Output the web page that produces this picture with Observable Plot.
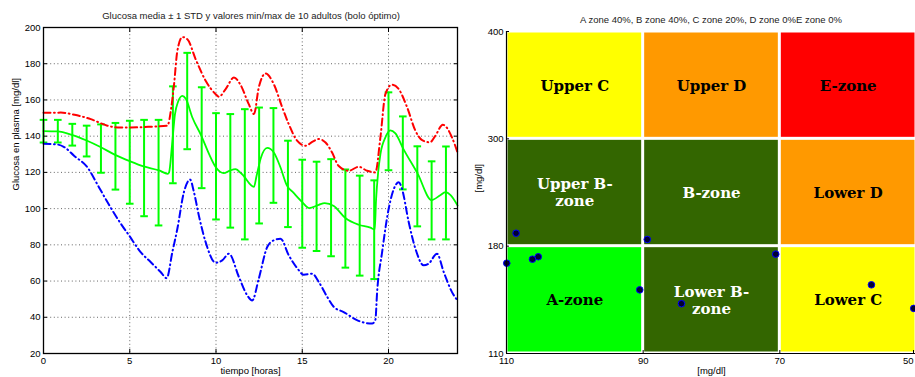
<!DOCTYPE html>
<html><head><meta charset="utf-8">
<script src="https://cdn.jsdelivr.net/npm/d3@7"></script>
<script src="https://cdn.jsdelivr.net/npm/@observablehq/plot@0.6"></script>
<style>
html,body{margin:0;padding:0;background:#fff;overflow:hidden;}
body{width:915px;height:377px;position:relative;font-family:"Liberation Sans",Arial,sans-serif;}
.title{position:absolute;font-size:9.5px;color:#222;white-space:nowrap;transform:translate(-50%,-50%);line-height:1;}
#left{position:absolute;left:0;top:0;width:460px;}
#right{position:absolute;left:460px;top:0;width:460px;}
</style></head><body>
<div id="left"></div><div id="right"></div>
<div class="title" style="left:251px;top:15.5px">Glucosa media ± 1 STD y valores min/max de 10 adultos (bolo óptimo)</div>
<div class="title" style="left:711px;top:20px">A zone 40%, B zone 40%, C zone 20%, D zone 0%E zone 0%</div>
<script>
// ---- Left chart data ----
const meanT = [0,0.8,1.6,2.5,3.3,4.15,5,5.8,6.7,7.2,7.28,7.45,7.62,7.8,8.05,8.25,8.63,9.15,9.6,10,10.45,10.8,11.13,11.5,12.2,12.35,12.6,12.97,13.35,13.74,14.1,14.5,15,15.4,15.96,16.3,16.83,17.5,18.27,18.95,19.2,19.28,19.4,19.53,19.82,20.1,20.4,20.86,21.69,22.5,23.0,23.3,23.6,24];
const meanV = [142.8,142.6,140.9,137.6,134,129.7,126.2,123.3,121.1,119.2,120,135,152,159,162.3,160.6,150.3,140.2,130.1,122.7,119.6,121,121.8,119.1,112,118,128,133.5,131,122.7,113,108.7,103.6,100.3,102.1,103,101.4,94.8,91.1,89.5,88.5,105,120,130,139.3,143.2,141.5,133,119.3,104.7,107.4,109.1,107.5,101.8];

const maxT = [0,1,1.8,2.74,3.7,4.3,5.06,6.2,7.18,7.41,7.56,7.76,8.05,8.34,8.82,9.4,9.98,10.17,10.56,11.04,11.4,11.9,12.2,12.48,12.87,13.35,13.84,14.22,14.7,15.19,15.6,15.96,16.35,16.73,17.1,17.7,18.27,18.76,19.24,19.53,19.82,20.2,20.59,21.08,21.56,21.95,22.4,22.7,23.15,23.68,24];
const maxV = [152.9,153,151.8,149.4,145.8,144.8,144.8,145.2,145.8,155.9,167.8,187.1,194.7,193.5,182.5,170.6,163.2,161.8,166,172.4,168.7,157.7,152.2,166.9,174.6,168.7,155.9,146.6,137.5,134.7,137,138.4,136.5,131,123.7,120.9,123.1,120.9,120,139.3,163.2,168.4,166,155.9,143,137.8,136.6,140,146.3,139.3,131];

const minT = [0,0.8,1.2,1.77,2.55,3.22,3.9,4.48,4.96,5.63,6.21,6.79,7.14,7.47,7.76,8.14,8.5,8.7,9.01,9.4,9.98,10.36,10.75,11.33,11.81,12.1,12.48,12.97,13.35,13.74,14.22,14.7,15.09,15.57,15.96,16.45,16.83,17.4,18.2,19.05,19.24,19.34,19.63,20.01,20.4,20.59,20.78,21.17,21.56,22.04,22.33,22.81,23.2,23.68,24];
const minV = [135.8,135.4,134,129.2,122.7,111.7,100.5,91.7,85.2,76,70.5,65,61.6,76,88.9,109.1,116,110,96,81.5,70.1,71.4,75.1,62.2,52.1,49.3,61.3,78.8,82.5,83.4,74.2,67.2,63.5,64.1,59.5,51.2,45.7,42.9,38.3,36.5,38.6,53.9,76,99.9,112.8,114.6,111,92.6,77.9,68.7,69.6,75.1,65,53.9,49.3];

const ebT  = [0,0.83,1.67,2.5,3.33,4.17,5,5.83,6.67,7.5,8.33,9.17,10,10.83,11.67,12.5,13.33,14.17,15,15.83,16.67,17.5,18.33,19.17,20,20.83,21.67,22.5,23.33];
const ebHi = [149,149,146.8,145.8,146.5,147.3,148.5,149,149,167.5,186,167,152.7,152.2,154.9,155.8,155.5,137.5,127,125.9,127.3,121.6,118.2,115.6,164.2,150.9,134.4,126.1,134.3];
const ebLo = [136.5,136.5,134.8,128.8,119.8,110.5,102.7,95.8,90.7,114,132.8,111.3,94,89.5,83,91.8,103.2,89.8,78.4,76.6,73.7,67.4,63,61.1,121.2,110.6,90.2,83,83];

const xTicks = [0,5,10,15,20];
const yTicks = [20,40,60,80,100,120,140,160,180,200];

// ---- Right chart (CVGA) data ----
const cvgaXTicks = [110,90,70,50];
const cvgaYTicks = [110,180,300,400];
const zoneNames = ["Upper C","Upper D","E-zone","Upper B-\nzone","B-zone","Lower D","A-zone","Lower B-\nzone","Lower C"];
const zoneFill  = ["#ffff00","#ff9900","#ff0000","#336600","#336600","#ff9900","#00ff00","#336600","#ffff00"];
const zoneInk   = ["#000000","#000000","#000000","#ffffff","#ffffff","#000000","#000000","#ffffff","#000000"];
const dotX = [109.96,106.2,105.35,90.5,84.4,70.6,56.6,50.4,108.6,89.4];
const dotY = [168.9,171.5,173.1,151.5,142.5,174.8,154.8,139.4,194.5,187.5];

// ---- build tables ----
const toRows = (T, V) => T.map((t, i) => ({t, v: V[i]}));
const meanData = toRows(meanT, meanV);
const maxData = toRows(maxT, maxV);
const minData = toRows(minT, minV);
const eb = ebT.map((t, i) => ({t, hi: ebHi[i], lo: ebLo[i]}));

const zones = zoneNames.map((name, i) => {
  const c = i % 3, r = Math.floor(i / 3);
  return {name, fill: zoneFill[i], ink: zoneInk[i],
    x1: cvgaXTicks[c], x2: cvgaXTicks[c + 1],
    y1: cvgaYTicks[2 - r], y2: cvgaYTicks[3 - r]};
});
const dots = dotX.map((x, i) => ({x, y: dotY[i]}));

const font = "'Liberation Sans', Arial, Helvetica, sans-serif";
const capSymbol = {draw(ctx) { ctx.moveTo(-3.8, 0); ctx.lineTo(3.8, 0); }};
const green = "#00ff00";
const dashDot = "7,3.5,0.8,3.5";
const gridStyle = {stroke: "#555", strokeOpacity: 0.9, strokeDasharray: "1,2.6"};

const left = Plot.plot({
  width: 460, height: 377,
  marginLeft: 43, marginRight: 3, marginTop: 27, marginBottom: 24,
  style: {fontFamily: font, fontSize: "9.5px", color: "#000", background: "transparent", maxWidth: "none"},
  x: {type: "linear", domain: [0, 24], axis: null},
  y: {type: "linear", domain: [20, 200], axis: null},
  marks: [
    Plot.gridX(xTicks.slice(1), gridStyle),
    Plot.gridY(yTicks.slice(1, -1), gridStyle),
    Plot.ruleX(eb, {x: "t", y1: "lo", y2: "hi", stroke: green, strokeWidth: 2}),
    Plot.dot(eb, {x: "t", y: "hi", symbol: capSymbol, stroke: green, fill: "none", strokeWidth: 2}),
    Plot.dot(eb, {x: "t", y: "lo", symbol: capSymbol, stroke: green, fill: "none", strokeWidth: 2}),
    Plot.line(meanData, {x: "t", y: "v", stroke: green, strokeWidth: 1.8, curve: "monotone-x"}),
    Plot.line(maxData, {x: "t", y: "v", stroke: "#ff0000", strokeWidth: 2, strokeDasharray: dashDot, curve: "monotone-x"}),
    Plot.line(minData, {x: "t", y: "v", stroke: "#0000ff", strokeWidth: 2, strokeDasharray: dashDot, curve: "monotone-x"}),
    Plot.frame({stroke: "#000", strokeWidth: 1.3}),
    Plot.axisX(xTicks, {anchor: "bottom", tickSize: -4, tickPadding: 8, label: null}),
    Plot.axisX(xTicks, {anchor: "top", tickSize: -4, fill: "none", label: null}),
    Plot.axisY(yTicks, {anchor: "left", tickSize: -4, tickPadding: 7, label: null}),
    Plot.axisY(yTicks, {anchor: "right", tickSize: -4, fill: "none", label: null}),
    Plot.text(["tiempo [horas]"], {text: d => d, frameAnchor: "bottom", dy: 20}),
    Plot.text(["Glucosa en plasma [mg/dl]"], {text: d => d, frameAnchor: "left", dx: -28, rotate: -90})
  ]
});
document.getElementById("left").appendChild(left);

const right = Plot.plot({
  width: 460, height: 377,
  marginLeft: 46, marginRight: 4, marginTop: 31, marginBottom: 24,
  style: {fontFamily: font, fontSize: "9.5px", color: "#000", background: "transparent", maxWidth: "none"},
  x: {type: "linear", domain: [110, 50], axis: null},
  y: {type: "linear", domain: cvgaYTicks, axis: null},
  marks: [
    Plot.rect(zones, {x1: "x1", x2: "x2", y1: "y1", y2: "y2", fill: d => d.fill, inset: 1.5}),
    Plot.text(zones, {x: d => (d.x1 + d.x2) / 2, y: d => (d.y1 + d.y2) / 2, text: "name", fill: d => d.ink,
      fontFamily: "'DejaVu Serif', serif", fontWeight: "bold", fontSize: 15, lineHeight: 1.12}),
    Plot.dot(dots, {x: "x", y: "y", r: 3.3, fill: "#000033", stroke: "#0000ff", strokeWidth: 1}),
    Plot.ruleX([110], {stroke: "#000", strokeWidth: 1.2}),
    Plot.ruleY([110], {stroke: "#000", strokeWidth: 1.2}),
    Plot.axisY(cvgaYTicks, {anchor: "left", tickSize: -3, tickPadding: 6, label: null}),
    Plot.axisX(cvgaXTicks.slice(0, 3), {anchor: "bottom", tickSize: -3, tickPadding: 7, label: null}),
    Plot.axisX(cvgaXTicks.slice(3), {anchor: "bottom", tickSize: -3, tickPadding: 7, label: null, textAnchor: "end", dx: -3}),
    Plot.text(["[mg/dl]"], {text: d => d, frameAnchor: "bottom", dy: 20}),
    Plot.text(["[mg/dl]"], {text: d => d, frameAnchor: "left", dx: -28, rotate: -90})
  ]
});
document.getElementById("right").appendChild(right);
</script>
</body></html>
